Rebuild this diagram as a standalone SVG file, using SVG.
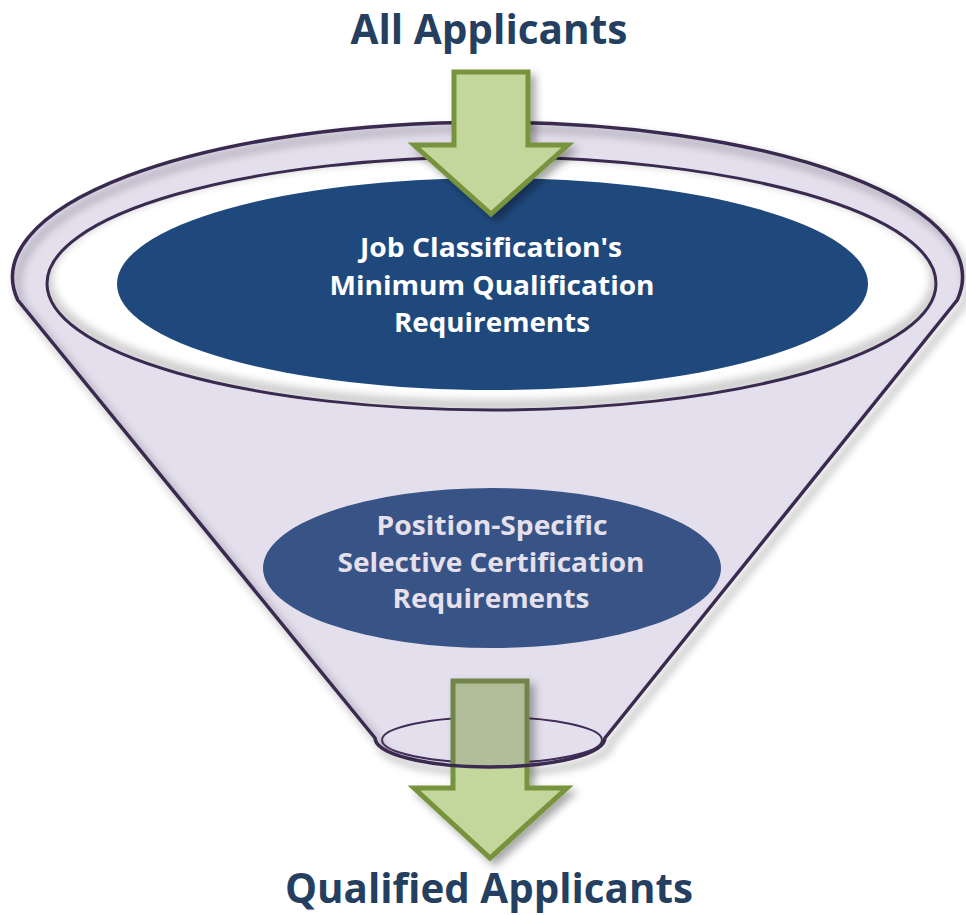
<svg xmlns="http://www.w3.org/2000/svg" width="966" height="915" viewBox="0 0 966 915">
<style>
.title{font-family:"Open Sans","Liberation Sans",sans-serif;font-weight:bold;fill:#243F60;text-anchor:middle}
.lbl{font-family:"Open Sans","Liberation Sans",sans-serif;font-weight:bold;font-size:27px;text-anchor:middle}
.arrow{fill:#C3D69B;stroke:#77933C;stroke-width:5;stroke-linejoin:miter}
.line{fill:none;stroke:#3B2A50;stroke-width:3}
</style>
<defs>
<filter id="blur4" x="-10%" y="-10%" width="120%" height="120%"><feGaussianBlur stdDeviation="4"/></filter>
<filter id="ashadow" x="-30%" y="-30%" width="160%" height="160%"><feDropShadow dx="5" dy="5" stdDeviation="4" flood-color="#000" flood-opacity="0.35"/></filter>
<path id="funnel" d="M 17.7 300 A 475 155 0 1 1 957.3 300 L 605 738 A 115 29 0 0 1 375 738 Z"/>
<clipPath id="ringClip"><ellipse cx="491.5" cy="283.5" rx="444.5" ry="126.5"/></clipPath>
</defs>

<!-- funnel shadow -->
<use href="#funnel" fill="none" stroke="#000" stroke-opacity="0.3" stroke-width="5" transform="translate(5,6)" filter="url(#blur4)"/>

<g id="funnel-bottom-ellipse">
<ellipse cx="492" cy="740" rx="110" ry="23" fill="none" stroke="#3B2A50" stroke-width="2"/>
</g>

<g id="arrow-out">
<path class="arrow" filter="url(#ashadow)" d="M 453 681 L 527 681 L 527 788 L 567 788 L 490 858 L 414 788 L 453 788 Z"/>
</g>

<g id="funnel-body">
<use href="#funnel" fill="#563788" fill-opacity="0.16" stroke="#3B2A50" stroke-width="3.5" stroke-linejoin="round"/>
<ellipse cx="491.5" cy="283.5" rx="444.5" ry="126.5" fill="#fff"/>
<g clip-path="url(#ringClip)">
<ellipse cx="491.5" cy="279" rx="444.5" ry="126.5" fill="none" stroke="#000" stroke-opacity="0.22" stroke-width="10" filter="url(#blur4)"/>
</g>
<ellipse cx="491.5" cy="283.5" rx="444.5" ry="126.5" class="line"/>
</g>

<g id="node-minimum">
<ellipse cx="492.5" cy="284" rx="375.5" ry="106" fill="#1F497D"/>
<text class="lbl" fill="#FFFFFF" x="491" y="257" textLength="262" lengthAdjust="spacingAndGlyphs">Job Classification's</text>
<text class="lbl" fill="#FFFFFF" x="492" y="295" textLength="325" lengthAdjust="spacingAndGlyphs">Minimum Qualification</text>
<text class="lbl" fill="#FFFFFF" x="492" y="332" textLength="196" lengthAdjust="spacingAndGlyphs">Requirements</text>
</g>

<g id="node-selective">
<ellipse cx="492" cy="568" rx="229" ry="80" fill="#385487"/>
<text class="lbl" fill="#E6E0EC" x="492" y="535" textLength="231" lengthAdjust="spacingAndGlyphs">Position-Specific</text>
<text class="lbl" fill="#E6E0EC" x="491" y="572" textLength="307" lengthAdjust="spacingAndGlyphs">Selective Certification</text>
<text class="lbl" fill="#E6E0EC" x="491" y="608" textLength="197" lengthAdjust="spacingAndGlyphs">Requirements</text>
</g>

<g id="arrow-in">
<path class="arrow" filter="url(#ashadow)" d="M 454 72 L 528 72 L 528 145 L 568 145 L 491 214 L 414 145 L 454 145 Z"/>
</g>

<g id="title-all">
<text class="title" x="489" y="44" font-size="42" textLength="277" lengthAdjust="spacingAndGlyphs">All Applicants</text>
</g>
<g id="title-qualified">
<text class="title" x="489" y="903" font-size="42" textLength="408" lengthAdjust="spacingAndGlyphs">Qualified Applicants</text>
</g>
</svg>
